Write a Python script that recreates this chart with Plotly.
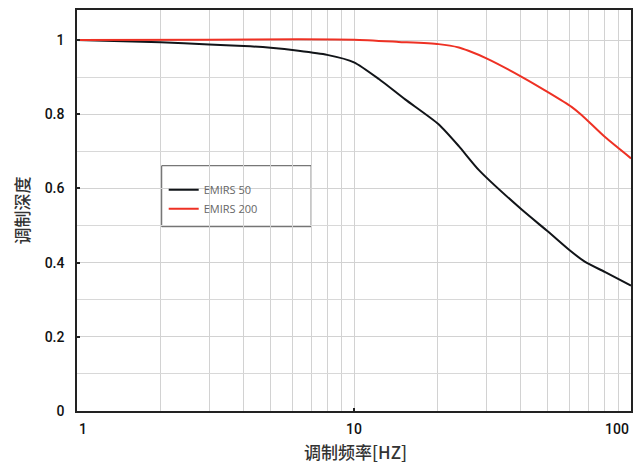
import math
import plotly.graph_objects as go

# ---- data ----
freq_50 = [1, 2, 3, 4, 5, 6.3, 8, 10, 12.3, 15.3, 20.2, 23.9, 28.2, 40.3, 50.3, 59.9, 68.3, 80.4, 100]
depth_50 = [1.0, 0.994, 0.988, 0.984, 0.979, 0.971, 0.960, 0.940, 0.895, 0.840, 0.773, 0.714, 0.650,
            0.543, 0.483, 0.434, 0.402, 0.375, 0.338]

freq_200 = [1, 3, 6.3, 10, 14.5, 20.2, 23.9, 25.9, 30.2, 40.3, 50.3, 61, 66.3, 80.4, 100]
depth_200 = [1.0, 1.001, 1.002, 1.001, 0.995, 0.989, 0.980, 0.971, 0.950, 0.901, 0.859, 0.820,
             0.798, 0.739, 0.681]

series_names = ["EMIRS 50", "EMIRS 200"]
series_colors = ["#111418", "#ee3124"]

x_tick_vals = [1, 10, 100]
x_tick_text = ["1", "10", "100"]
x_tick_anchor = ["left", "center", "right"]
y_tick_vals = [0, 0.2, 0.4, 0.6, 0.8, 1.0]
y_tick_text = ["0", "0.2", "0.4", "0.6", "0.8", "1"]

x_title = "调制频率[HZ]"
y_title = "调制深度"

FONT = "Roboto, Liberation Sans, Arial, sans-serif"
CJK = "Noto Sans CJK SC, sans-serif"

fig = go.Figure()
for fx, fy, name, col in [(freq_50, depth_50, series_names[0], series_colors[0]),
                          (freq_200, depth_200, series_names[1], series_colors[1])]:
    fig.add_trace(go.Scatter(x=fx, y=fy, mode="lines", name=name,
                             line=dict(color=col, width=2, shape="spline", smoothing=0.6)))

axis_common = dict(showline=True, linecolor="#222", linewidth=1.5, mirror=True,
                   gridcolor="#d2d2d2", gridwidth=1, zeroline=False,
                   ticks="inside", ticklen=3, tickcolor="#222", tickwidth=1.5)

fig.update_xaxes(type="log", range=[0, 2.0], tickvals=x_tick_vals, showticklabels=False,
                 minor=dict(dtick="D1", showgrid=True, gridcolor="#d2d2d2", ticks=""),
                 **axis_common)
fig.update_yaxes(range=[0, 1.081], tickvals=y_tick_vals, ticktext=y_tick_text,
                 tickfont=dict(family=FONT, size=14, color="#111", weight=500),
                 ticklabelstandoff=8,
                 minor=dict(dtick=0.1, showgrid=True, gridcolor="#d8d8d8", ticks=""),
                 **axis_common)

annotations = []
for v, t, a in zip(x_tick_vals, x_tick_text, x_tick_anchor):
    annotations.append(dict(x=math.log10(v), y=0, xref="x", yref="paper",
                            text=t, showarrow=False, xanchor=a, yanchor="top", yshift=-8,
                            font=dict(family=FONT, size=14, color="#111", weight=500)))
annotations.append(dict(x=0.503, y=-0.102, xref="paper", yref="paper", text=x_title,
                        showarrow=False, xanchor="center", yanchor="middle",
                        font=dict(family=CJK, size=17, color="#333", weight=500)))
annotations.append(dict(x=-0.101, y=0.5, xref="paper", yref="paper", text=y_title,
                        showarrow=False, xanchor="center", yanchor="middle", textangle=-90,
                        font=dict(family=CJK, size=17, color="#333", weight=500)))

fig.update_layout(
    width=640, height=463,
    margin=dict(l=77, r=7, t=10, b=52),
    paper_bgcolor="white", plot_bgcolor="white",
    showlegend=True,
    legend=dict(x=0.1565, y=0.588, xanchor="left", yanchor="top",
                bgcolor="rgba(0,0,0,0)", borderwidth=0,
                font=dict(family="Open Sans, sans-serif", size=11, color="#666"),
                tracegroupgap=0),
    annotations=annotations,
    shapes=[dict(type="rect", xref="paper", yref="paper", x0=0.1529, x1=0.4227,
                 y0=0.4596, y1=0.6117, line=dict(color="#555", width=1),
                 fillcolor="white", layer="below")],
)

fig.write_html("out.html", config={"displayModeBar": False},
               post_script="document.body.style.margin='0';")
